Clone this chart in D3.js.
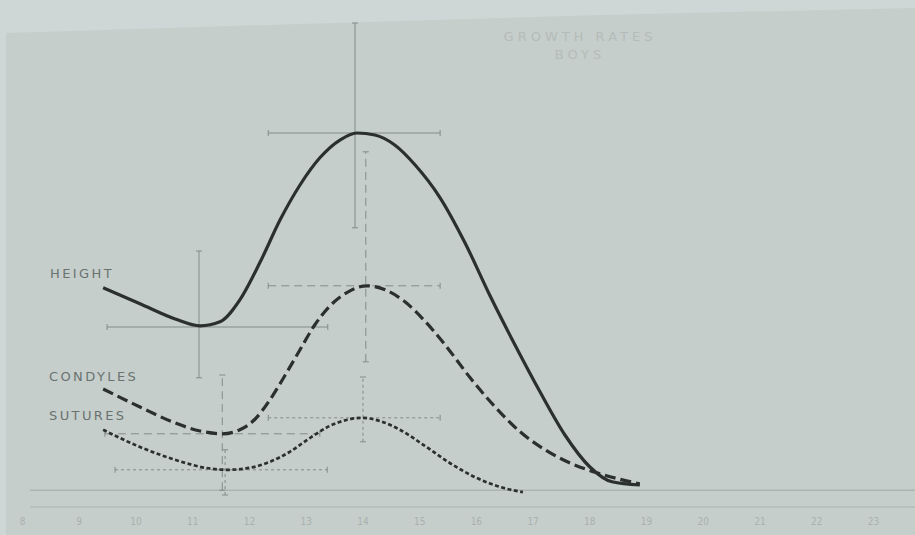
<!DOCTYPE html>
<html>
<head>
<meta charset="utf-8">
<script src="https://cdn.jsdelivr.net/npm/d3@7"></script>
<style>
  html, body { margin: 0; padding: 0; background: #ced7d5; }
  svg { display: block; }
</style>
</head>
<body>
<svg id="chart" width="915" height="535"></svg>
<script>
// ---- data (age in years, growth velocity in arbitrary units) ----
const ticks = [8, 9, 10, 11, 12, 13, 14, 15, 16, 17, 18, 19, 20, 21, 22, 23];
const tickLabels = ["8", "9", "10", "11", "12", "13", "14", "15", "16", "17", "18", "19", "20", "21", "22", "23"];

const heightAge = [9.43, 10.08, 10.70, 11.14, 11.49, 11.84, 12.20, 12.55, 12.90, 13.25, 13.61, 13.90, 14.22, 14.57, 14.93, 15.37, 15.81, 16.25, 16.69, 17.13, 17.57, 18.01, 18.40, 18.89];
const heightVal = [4.98, 4.58, 4.20, 4.03, 4.13, 4.68, 5.63, 6.68, 7.55, 8.23, 8.68, 8.85, 8.80, 8.55, 8.05, 7.23, 6.10, 4.78, 3.55, 2.38, 1.30, 0.50, 0.13, 0.05];

const condAge = [9.43, 10.08, 10.70, 11.14, 11.53, 11.84, 12.11, 12.37, 12.64, 12.90, 13.16, 13.43, 13.75, 14.08, 14.40, 14.75, 15.10, 15.46, 15.90, 16.34, 16.78, 17.22, 17.66, 18.19, 18.89];
const condVal = [2.45, 2.00, 1.60, 1.40, 1.33, 1.43, 1.70, 2.18, 2.80, 3.43, 4.05, 4.53, 4.88, 5.03, 4.93, 4.63, 4.15, 3.55, 2.73, 2.00, 1.38, 0.93, 0.60, 0.33, 0.08];

const sutAge = [9.43, 10.08, 10.70, 11.23, 11.63, 12.02, 12.37, 12.72, 13.08, 13.43, 13.73, 13.99, 14.31, 14.66, 15.10, 15.54, 15.98, 16.43, 16.83];
const sutVal = [1.43, 1.00, 0.68, 0.48, 0.43, 0.48, 0.63, 0.88, 1.23, 1.53, 1.68, 1.73, 1.65, 1.43, 1.03, 0.60, 0.25, 0.00, -0.13];

const seriesNames = ["HEIGHT", "CONDYLES", "SUTURES"];

// error bars
const errSeries = ["HEIGHT", "HEIGHT", "CONDYLES", "CONDYLES", "SUTURES", "SUTURES"];
const errX    = [11.12, 13.87, 11.53, 14.06, 11.58, 14.01];
const errY    = [4.00, 8.85, 1.33, 5.03, 0.43, 1.73];
const errXLo  = [9.50, 12.34, 9.46, 12.34, 9.64, 12.34];
const errXHi  = [13.39, 15.37, 13.25, 15.37, 13.38, 15.37];
const errYLo  = [2.73, 6.48, -0.08, 3.13, -0.20, 1.13];
const errYHi  = [5.90, 11.60, 2.80, 8.38, 0.93, 2.75];

const titleLines = ["GROWTH RATES", "BOYS"];

// ---- drawing ----
const svg = d3.select("#chart");
const W = 915, H = 535;

// photographed card background
svg.append("rect").attr("x", 0).attr("y", 0).attr("width", W).attr("height", H).attr("fill", "#ced7d5");
svg.append("polygon")
  .attr("points", [[6, 33], [300, 24], [600, 15], [915, 8], [915, 535], [6, 535]].map(p => p.join(",")).join(" "))
  .attr("fill", "#c5cecb");

const x = d3.scaleLinear().domain([8, 23]).range([22, 873]);
const y = d3.scaleLinear().domain([0, 10]).range([487, 87]);

// baseline
svg.append("line").attr("x1", 30).attr("x2", 915)
  .attr("y1", y(-0.08)).attr("y2", y(-0.08))
  .attr("stroke", "#a0a9a6").attr("stroke-width", 1);

// x axis
const axis = d3.axisBottom(x).tickValues(ticks).tickFormat((d, i) => tickLabels[i]).tickSize(0).tickPadding(11);
const gAx = svg.append("g").attr("transform", `translate(0,${y(-0.5)})`).call(axis);
gAx.select(".domain").attr("stroke", "#abb3b0").attr("stroke-width", 1).attr("d", `M30,0H915`);
gAx.selectAll("text").attr("fill", "#a9b1ae").attr("font-family", "DejaVu Sans Condensed, DejaVu Sans, sans-serif").attr("font-size", 10);

// title (faint)
svg.append("g").selectAll("text").data(titleLines).join("text")
  .attr("x", 580).attr("y", (d, i) => 41 + i * 18)
  .attr("text-anchor", "middle")
  .attr("fill", "#b4bcb9")
  .attr("font-family", "DejaVu Sans, sans-serif")
  .attr("font-size", 13)
  .attr("letter-spacing", 4)
  .text(d => d);

const styles = {
  HEIGHT:   { dash: null,   width: 3.2, err: null },
  CONDYLES: { dash: "11,5", width: 3.2, err: "8,5" },
  SUTURES:  { dash: "4,2.5", width: 2.7, err: "3,3" }
};

// error bars
const errG = svg.append("g").attr("stroke", "#838c8a").attr("stroke-width", 1).attr("fill", "none");
errSeries.forEach((s, i) => {
  const st = styles[s];
  const g = errG.append("g");
  const cx = x(errX[i]), cy = y(errY[i]);
  g.append("line").attr("x1", x(errXLo[i])).attr("x2", x(errXHi[i])).attr("y1", cy).attr("y2", cy).attr("stroke-dasharray", st.err);
  g.append("line").attr("x1", cx).attr("x2", cx).attr("y1", y(errYLo[i])).attr("y2", y(errYHi[i])).attr("stroke-dasharray", st.err);
  const c = 3;
  g.append("line").attr("x1", x(errXLo[i])).attr("x2", x(errXLo[i])).attr("y1", cy - c).attr("y2", cy + c);
  g.append("line").attr("x1", x(errXHi[i])).attr("x2", x(errXHi[i])).attr("y1", cy - c).attr("y2", cy + c);
  g.append("line").attr("x1", cx - c).attr("x2", cx + c).attr("y1", y(errYLo[i])).attr("y2", y(errYLo[i]));
  g.append("line").attr("x1", cx - c).attr("x2", cx + c).attr("y1", y(errYHi[i])).attr("y2", y(errYHi[i]));
});

// curves
const line = d3.line().x(d => x(d[0])).y(d => y(d[1])).curve(d3.curveMonotoneX);
const data = {
  HEIGHT: d3.zip(heightAge, heightVal),
  CONDYLES: d3.zip(condAge, condVal),
  SUTURES: d3.zip(sutAge, sutVal)
};
seriesNames.forEach(s => {
  svg.append("path")
    .datum(data[s])
    .attr("d", line)
    .attr("fill", "none")
    .attr("stroke", "#2b302f")
    .attr("stroke-width", styles[s].width)
    .attr("stroke-dasharray", styles[s].dash)
    .attr("stroke-linecap", "butt");
});

// series labels
const labelX = [50, 49, 49];
const labelY = [278, 381, 420];
svg.append("g").selectAll("text").data(seriesNames).join("text")
  .attr("x", (d, i) => labelX[i])
  .attr("y", (d, i) => labelY[i])
  .attr("fill", "#6a7270")
  .attr("font-family", "DejaVu Sans, sans-serif")
  .attr("font-size", 13)
  .attr("letter-spacing", 2.4)
  .text(d => d);
</script>
</body>
</html>
